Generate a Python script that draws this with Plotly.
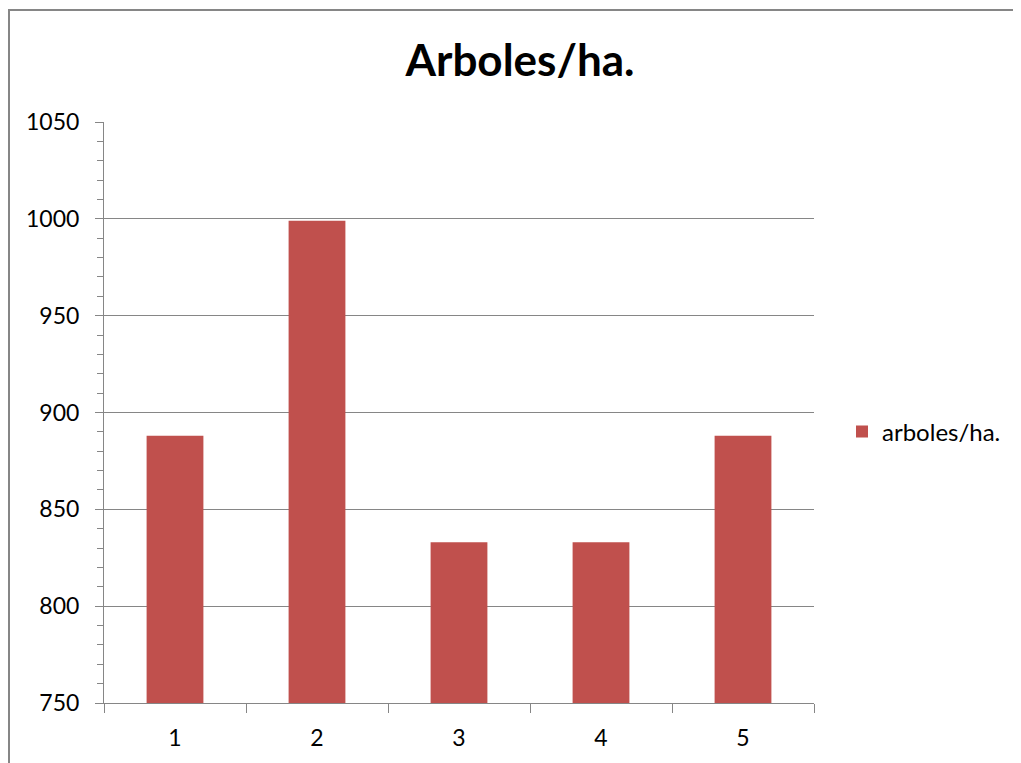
import plotly.graph_objects as go

categories = ["1", "2", "3", "4", "5"]
values = [888, 999, 833, 833, 888]
series_name = "arboles/ha."
title_text = "Arboles/ha."

# page body has an 8px margin, so the figure is drawn 8px smaller and offset
OFF = 8
W, H = 1021 - OFF, 763 - OFF
L, R, T, B = 104 - OFF, 814 - OFF, 122 - OFF, 703 - OFF
pw, ph = R - L, B - T

def px_x(x):
    return (x - OFF - L) / pw

def px_y(y):
    return (B - (y - OFF)) / ph

grey = "#868686"
font_family = "Lato, 'Open Sans', sans-serif"

fig = go.Figure()
fig.add_trace(go.Bar(x=categories, y=values, name=series_name,
                     marker=dict(color="#C0504D", line=dict(width=0)),
                     showlegend=True))

fig.update_layout(
    width=W, height=H,
    margin=dict(l=L, r=W - R, t=T, b=H - B, pad=0),
    paper_bgcolor="white", plot_bgcolor="white",
    bargap=0.6,
    title=dict(text="<b>" + title_text + "</b>", x=(520 - OFF) / W, xanchor="center",
               y=1 - (61 - OFF) / H, yanchor="middle",
               font=dict(family=font_family, size=44, color="black")),
    font=dict(family=font_family, size=23, color="black"),
    legend=dict(x=px_x(842), y=px_y(432), xanchor="left", yanchor="middle",
                font=dict(size=24, color="black"), itemwidth=30,
                bgcolor="rgba(0,0,0,0)"),
    xaxis=dict(type="category", tickson="boundaries", ticks="outside", ticklen=9,
               tickcolor=grey, showline=True, linecolor=grey, linewidth=1,
               showgrid=False, tickfont=dict(size=23), ticklabelstandoff=14),
    yaxis=dict(range=[750, 1050], dtick=50, tick0=750, ticks="outside", ticklen=8,
               tickcolor=grey, showline=True, linecolor=grey, linewidth=1,
               showgrid=True, gridcolor=grey, gridwidth=1, zeroline=False,
               tickfont=dict(size=23), ticklabelstandoff=11,
               minor=dict(dtick=10, ticks="outside", ticklen=6, tickcolor=grey, showgrid=False)),
    shapes=[
        dict(type="line", xref="paper", yref="paper", x0=px_x(8), x1=px_x(1021),
             y0=px_y(10), y1=px_y(10), line=dict(color=grey, width=2)),
        dict(type="line", xref="paper", yref="paper", x0=px_x(9), x1=px_x(9),
             y0=px_y(10), y1=px_y(763), line=dict(color=grey, width=2)),
    ],
)

fig.write_html("out.html")
